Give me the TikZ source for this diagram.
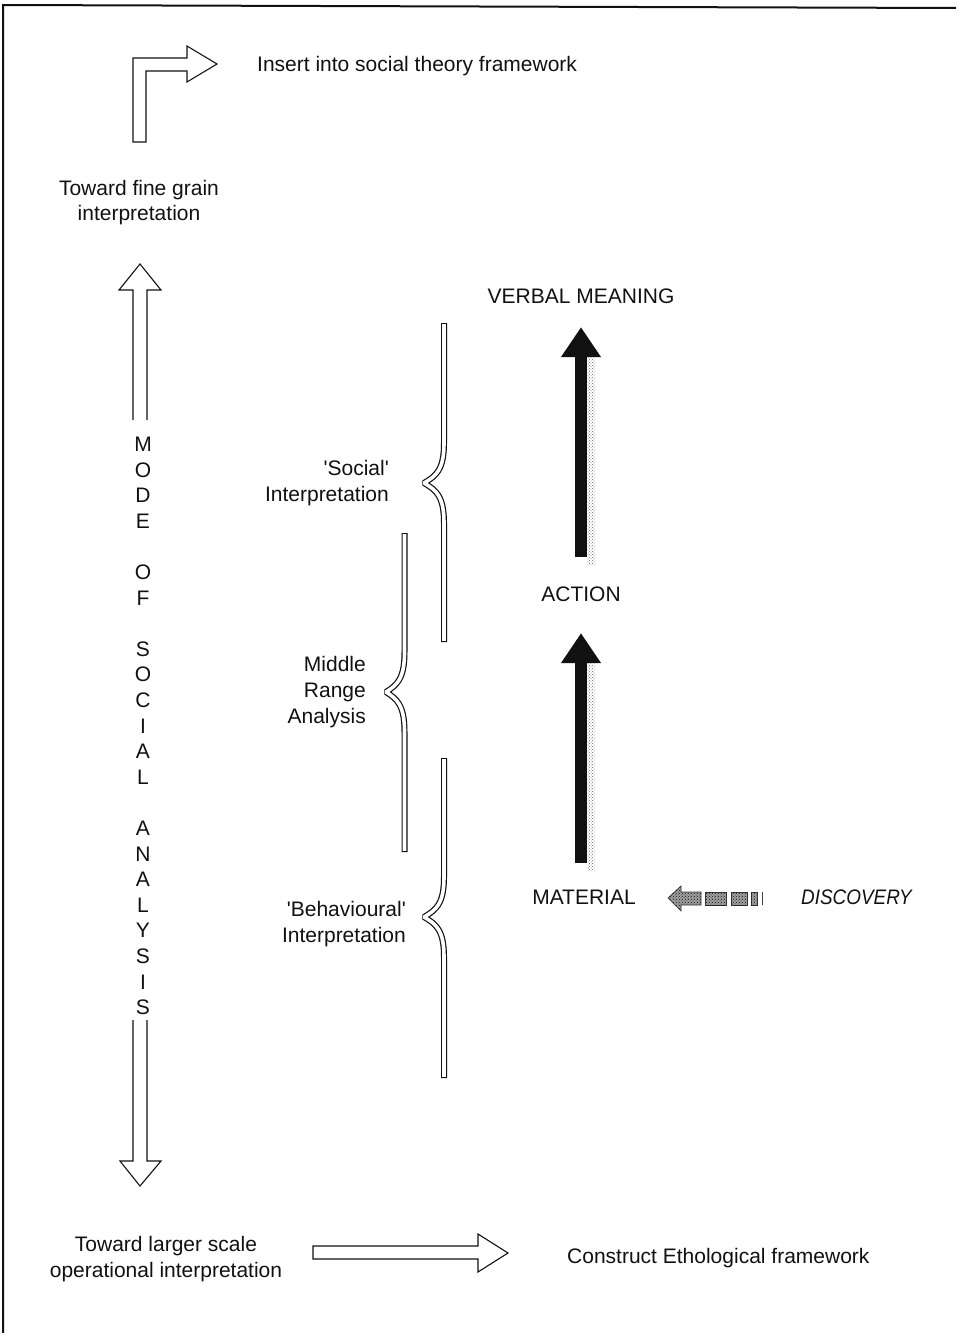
\documentclass[tikz,border=0pt]{standalone}
\usepackage{fontspec}
\setmainfont{Liberation Sans}
\usepackage{tikz}
\usetikzlibrary{arrows.meta,patterns}
\definecolor{ink}{HTML}{111111}
\definecolor{dots}{HTML}{6E6E6E}
\tikzset{
  hollow/.style={line width=1.1pt, draw=ink, fill=white},
  lab/.style={text=ink, font=\fontsize{21}{25.6}\selectfont, inner sep=2pt},
  bigarrow/.style={line width=12pt, draw=ink, -{Triangle[width=38pt,length=30pt]}},
  stipple/.style={pattern=crosshatch dots, pattern color=dots},
  dark stipple/.style={fill=ink!40, draw=ink!85, line width=0.7pt,
    postaction={pattern=crosshatch dots, pattern color=ink}},
  braceline/.style={draw=ink, line width=6pt, line join=bevel,
    postaction={draw=white, line width=3.6pt, shorten <=1.2pt, shorten >=1.2pt}},
  frame/.style={line width=2pt, draw=ink},
}

\begin{document}
\begin{tikzpicture}[x=1pt, y=-1pt]
  \useasboundingbox (0,0) rectangle (956,1333);
  \draw[frame] (3,1333) -- (3,5) -- (956,8);

  % bent arrow, top left
  \draw[hollow] (133,142) -- (133,58) -- (187,58) -- (187,46) -- (217,64)
    -- (187,82) -- (187,71) -- (146,71) -- (146,142) -- cycle;
  \node[lab, anchor=west] (insert) at (255,66) {Insert into social theory framework};
  \node[lab, align=center] (fine) at (139,202.5) {Toward fine grain\\interpretation};

  % the long double arrow
  \draw[hollow] (133,420) -- (133,290) -- (119,290) -- (140,264) -- (161,290)
    -- (147,290) -- (147,420);
  \node[lab, align=center] (mode) at (143,726)
    {M\\O\\D\\E\\[25.6pt]O\\F\\[25.6pt]S\\O\\C\\I\\A\\L\\[25.6pt]A\\N\\A\\L\\Y\\S\\I\\S};
  \draw[hollow] (133,1020) -- (133,1161) -- (120,1161) -- (140,1186) -- (161,1161)
    -- (147,1161) -- (147,1020);

  \node[lab, align=center] (larger) at (166,1259) {Toward larger scale\\operational interpretation};
  \draw[hollow] (313,1246) -- (478,1246) -- (478,1234) -- (508,1253) -- (478,1272)
    -- (478,1259) -- (313,1259) -- cycle;
  \node[lab, anchor=west] (construct) at (565,1258) {Construct Ethological framework};

  % braces
  \draw[braceline] (444,323) -- (444,443) .. controls (444,470) and (436,476) .. (424,483)
    .. controls (436,490) and (444,496) .. (444,523) -- (444,642);
  \node[lab, align=right, anchor=east] (social) at (391,483)
    {\textquotesingle Social\textquotesingle\\Interpretation};

  \draw[braceline] (404.5,533) -- (404.5,652) .. controls (404.5,679) and (397,685) .. (386,692)
    .. controls (397,699) and (404.5,705) .. (404.5,732) -- (404.5,852);
  \node[lab, align=right, anchor=east] (middle) at (368,692) {Middle\\Range\\Analysis};

  \draw[braceline] (444,758) -- (444,877) .. controls (444,904) and (436,910) .. (424,917)
    .. controls (436,924) and (444,930) .. (444,957) -- (444,1078);
  \node[lab, align=right, anchor=east] (behav) at (408,924)
    {\textquotesingle Behavioural\textquotesingle\\Interpretation};

  % right column
  \node[lab] (verbal) at (581,296) {VERBAL MEANING};
  \node[lab] (action) at (581,594) {ACTION};
  \node[lab] (material) at (584,897) {MATERIAL};
  \node[lab, anchor=west] (discovery) at (799,897) {\scalebox{0.9}[1]{\itshape DISCOVERY}};

  \draw[bigarrow] ([yshift=27.5pt]action.north) coordinate (a2s)
    -- ([yshift=-21.5pt]verbal.south) coordinate (a2e);
  \fill[stipple] ([xshift=6pt,yshift=-8pt]a2s) rectangle ([xshift=14pt,yshift=-30pt]a2e);
  \draw[bigarrow] ([xshift=-3pt,yshift=24.5pt]material.north) coordinate (a1s)
    -- ([yshift=-29.5pt]action.south) coordinate (a1e);
  \fill[stipple] ([xshift=6pt,yshift=-7pt]a1s) rectangle ([xshift=14pt,yshift=-30pt]a1e);

  % discovery arrow
  \draw[dark stipple] (668,898) -- (681,886) -- (681,892) -- (701,892)
    -- (701,905) -- (681,905) -- (681,911) -- cycle;
  \draw[dark stipple] (705,892) rectangle (726,905);
  \draw[dark stipple] (731,892) rectangle (747,905);
  \draw[dark stipple] (751,892) rectangle (757,905);
  \draw[ink!80, line width=1pt] (762,892) -- (762,905);
\end{tikzpicture}
\end{document}
